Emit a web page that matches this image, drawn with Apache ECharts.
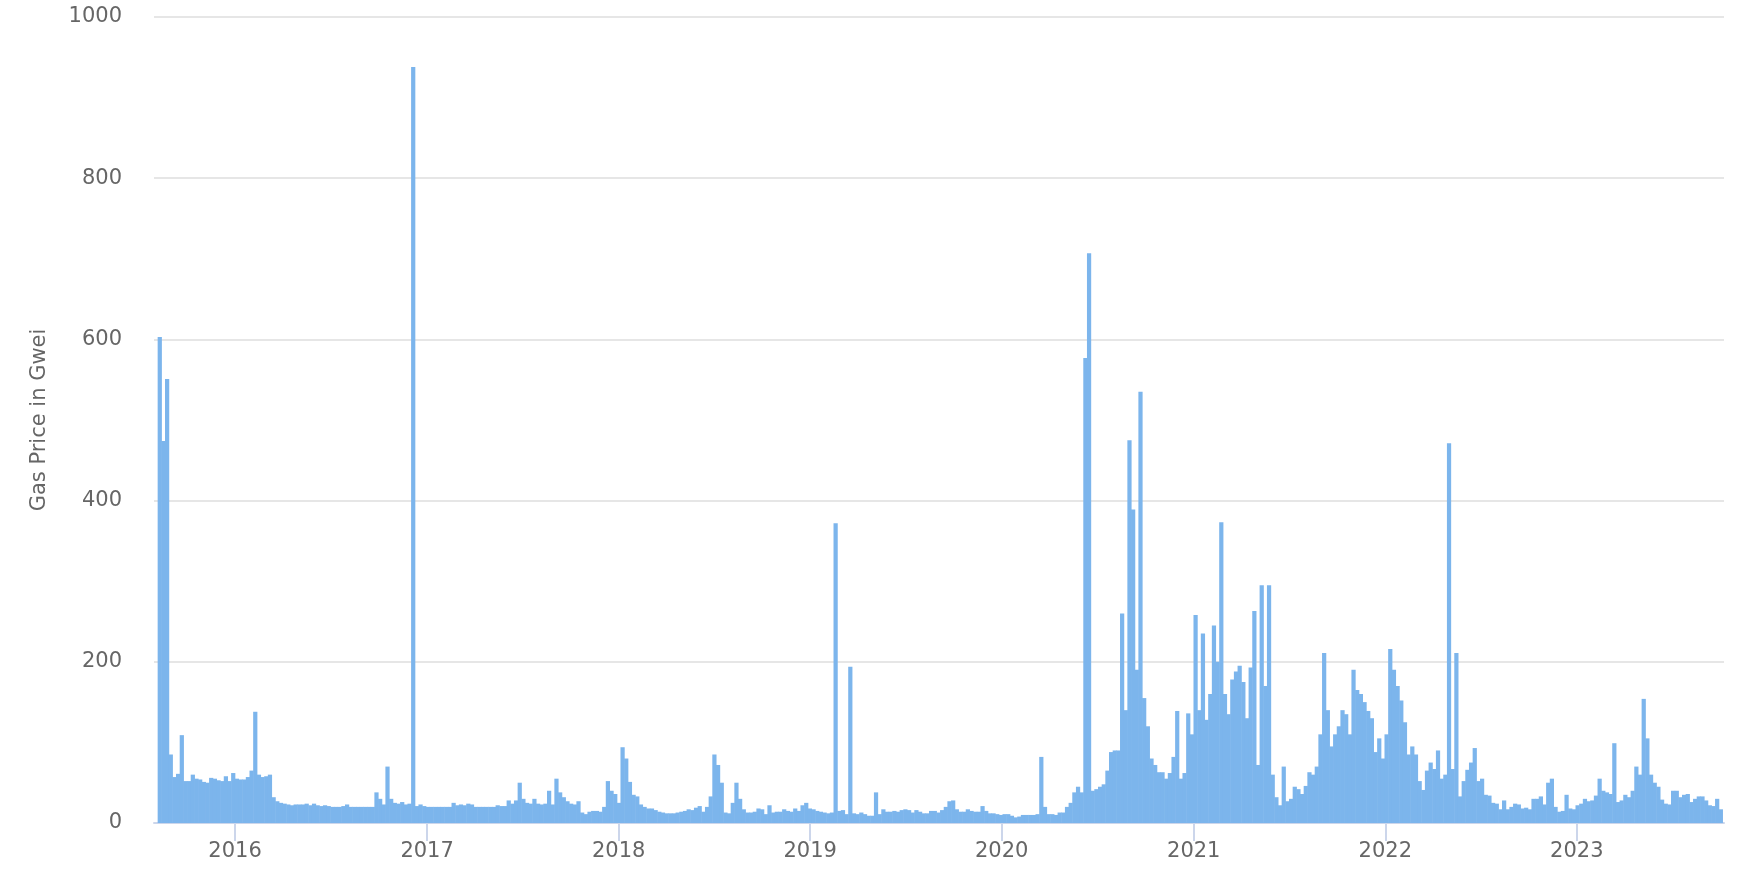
<!DOCTYPE html>
<html>
<head>
<meta charset="utf-8">
<script src="https://cdn.jsdelivr.net/npm/echarts@6/dist/echarts.min.js"></script>
<style>
html,body{margin:0;padding:0;background:#fff;}
#chart{width:1742px;height:876px;}
</style>
</head>
<body>
<div id="chart"></div>
<script>
// Weekly average gas price (Gwei), first week starting 2015-08-07
const firstWeekStart = '2015-08-07';
const gasPrice = [
603,474,551,85,57,61,109,52,52,60,55,54,51,50,56,55,53,52,58,52,62,55,54,54,57,65,138,60,57,58,60,32,27,25,24,23,22,23,23,23,24,22,24,22,21,22,21,20,20,20,21,23,20,
20,20,20,20,20,20,38,30,23,70,30,25,24,26,23,24,938,21,23,21,20,20,20,20,20,20,20,25,22,23,22,24,23,20,20,20,20,20,20,22,21,21,28,24,28,50,30,25,24,30,24,23,24,40,
23,55,38,32,27,24,23,27,13,11,14,15,15,14,20,52,40,36,25,94,80,51,35,33,23,20,18,18,16,14,13,12,12,12,13,14,15,17,16,19,21,14,20,33,85,72,50,13,12,25,50,30,17,13,13,
14,18,17,11,22,13,14,14,17,15,14,18,15,22,25,18,17,15,14,13,12,13,372,15,16,11,194,12,11,13,11,9,9,38,11,17,14,14,15,14,16,17,16,13,16,14,12,12,15,15,13,16,20,27,
28,17,14,14,17,15,14,14,21,15,12,12,11,10,11,11,9,7,8,10,10,10,10,11,82,20,11,11,10,13,13,20,25,38,45,38,577,707,40,42,45,48,65,88,90,90,260,140,475,389,190,535,155,120,
80,72,63,63,55,62,82,139,55,62,136,110,258,140,235,128,160,245,200,373,160,135,178,188,195,175,130,193,263,72,295,170,295,60,32,22,70,27,30,45,42,36,46,63,60,70,110,211,140,95,110,120,140,135,
110,190,165,160,150,139,130,88,105,80,110,216,190,170,152,125,85,95,85,52,41,65,75,67,90,55,60,471,67,211,33,52,66,75,93,52,55,35,34,25,24,17,28,17,20,24,23,18,19,17,30,30,33,23,50,
55,20,14,15,35,18,17,22,24,30,27,28,34,55,40,38,36,99,26,28,35,32,40,70,60,154,105,60,50,45,29,24,23,40,40,32,35,36,26,30,33,33,28,22,21,30,17
];
const yearTicks = [2016, 2017, 2018, 2019, 2020, 2021, 2022, 2023];
const yTicks = [0, 200, 400, 600, 800, 1000];
const axisStart = '2015-07-30T12:00:00Z';
const axisEnd = '2023-10-08T12:00:00Z';

const DAY = 86400000;
const startMs = Date.parse(firstWeekStart + 'T00:00:00Z');
const seriesData = gasPrice.map((v, i) => [startMs + (i * 7 + 3.5) * DAY, v]);
const yearMs = yearTicks.map(y => Date.UTC(y, 0, 1));

const chart = echarts.init(document.getElementById('chart'), null, {renderer: 'canvas'});
chart.setOption({
  animation: false,
  backgroundColor: '#ffffff',
  grid: {left: 154, right: 18, top: 17, bottom: 53, containLabel: false},
  xAxis: {
    type: 'value',
    min: Date.parse(axisStart),
    max: Date.parse(axisEnd),
    axisLine: {show: true, lineStyle: {color: '#ccd6eb', width: 2}},
    axisTick: {show: true, length: 18, lineStyle: {color: '#ccd6eb', width: 2}, customValues: yearMs},
    axisLabel: {
      customValues: yearMs,
      color: '#666666',
      fontFamily: 'DejaVu Sans',
      fontSize: 21,
      margin: 18,
      formatter: v => String(new Date(v).getUTCFullYear())
    },
    splitLine: {show: false}
  },
  yAxis: {
    type: 'value',
    min: yTicks[0],
    max: yTicks[yTicks.length - 1],
    interval: 200,
    name: 'Gas Price in Gwei',
    nameLocation: 'middle',
    nameGap: 104,
    nameTextStyle: {color: '#666666', fontFamily: 'DejaVu Sans', fontSize: 21},
    axisLine: {show: false},
    axisTick: {show: false},
    axisLabel: {color: '#666666', fontFamily: 'DejaVu Sans', fontSize: 21, margin: 32, formatter: v => String(v)},
    splitLine: {lineStyle: {color: '#e6e6e6', width: 2}}
  },
  series: [{
    type: 'bar',
    data: seriesData,
    barWidth: '115%',
    itemStyle: {color: '#7cb5ec'}
  }]
});
</script>
</body>
</html>
